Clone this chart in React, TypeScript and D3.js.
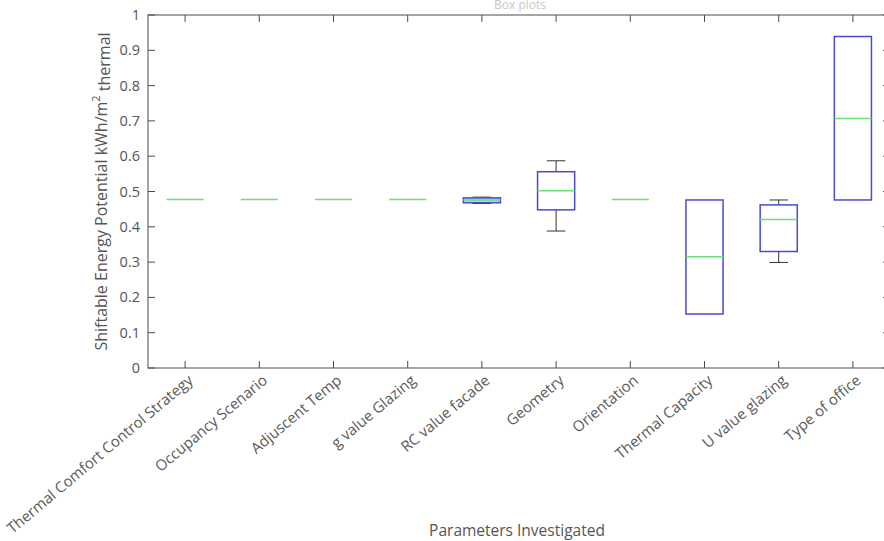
import React, { useEffect, useRef } from "react";
import * as d3 from "d3";

// categories along x
const categories = [
  "Thermal Comfort Control Strategy",
  "Occupancy Scenario",
  "Adjuscent Temp",
  "g value Glazing",
  "RC value facade",
  "Geometry",
  "Orientation",
  "Thermal Capacity",
  "U value glazing",
  "Type of office",
];

// box stats per category
const lowWhisker = [0.477, 0.477, 0.477, 0.477, 0.466, 0.388, 0.477, 0.153, 0.299, 0.476];
const q1 = [0.477, 0.477, 0.477, 0.477, 0.468, 0.448, 0.477, 0.153, 0.33, 0.476];
const medians = [0.477, 0.477, 0.477, 0.477, 0.476, 0.502, 0.477, 0.315, 0.421, 0.707];
const q3 = [0.477, 0.477, 0.477, 0.477, 0.482, 0.556, 0.477, 0.476, 0.462, 0.939];
const highWhisker = [0.477, 0.477, 0.477, 0.477, 0.484, 0.587, 0.477, 0.476, 0.476, 0.939];

const yTicks = [0, 0.1, 0.2, 0.3, 0.4, 0.5, 0.6, 0.7, 0.8, 0.9, 1];

const App = () => {
  const ref = useRef<SVGSVGElement>(null);

  useEffect(() => {
    const svg = d3.select(ref.current);
    svg.selectAll("*").remove();

    const left = 148,
      right = 890,
      top = 15,
      bottom = 368;
    const font = "'Open Sans', sans-serif";
    const axisColor = "#4d4d4d";

    const x = d3.scaleLinear().domain([0.5, 10.5]).range([left, right]);
    const y = d3.scaleLinear().domain([0, 1]).range([bottom, top]);

    // faint title, mostly cut off at the top
    svg
      .append("text")
      .attr("x", 520)
      .attr("y", 9)
      .attr("text-anchor", "middle")
      .attr("font-family", font)
      .attr("font-size", 12)
      .attr("fill", "#c8c8c8")
      .text("Box plots");

    // axes box
    const g = svg.append("g");
    g.append("rect")
      .attr("x", left)
      .attr("y", top)
      .attr("width", right - left)
      .attr("height", bottom - top)
      .attr("fill", "none")
      .attr("stroke", axisColor)
      .attr("stroke-width", 1);

    // y ticks on left and right, inward
    yTicks.forEach((t) => {
      g.append("line")
        .attr("x1", left)
        .attr("x2", left + 7)
        .attr("y1", y(t))
        .attr("y2", y(t))
        .attr("stroke", axisColor);
      g.append("line")
        .attr("x1", right)
        .attr("x2", right - 7)
        .attr("y1", y(t))
        .attr("y2", y(t))
        .attr("stroke", axisColor);
      g.append("text")
        .attr("x", left - 8)
        .attr("y", y(t))
        .attr("dy", "0.35em")
        .attr("text-anchor", "end")
        .attr("font-family", font)
        .attr("font-size", 14.5)
        .attr("fill", "#555")
        .text(d3.format("~g")(t));
    });

    // x ticks top and bottom
    categories.forEach((c, i) => {
      const cx = x(i + 1);
      g.append("line")
        .attr("x1", cx)
        .attr("x2", cx)
        .attr("y1", bottom)
        .attr("y2", bottom - 7)
        .attr("stroke", axisColor);
      g.append("line")
        .attr("x1", cx)
        .attr("x2", cx)
        .attr("y1", top)
        .attr("y2", top + 7)
        .attr("stroke", axisColor);
      g.append("text")
        .attr("transform", `translate(${cx + 9},${bottom + 14}) rotate(-40)`)
        .attr("text-anchor", "end")
        .attr("font-family", font)
        .attr("font-size", 15)
        .attr("fill", "#5a5a5a")
        .text(c);
    });

    // boxes
    const step = x(2) - x(1);
    const boxW = step * 0.5;
    const capW = step * 0.25;
    categories.forEach((c, i) => {
      const cx = x(i + 1);
      const flat = q3[i] - q1[i] < 0.001;
      if (!flat) {
        // whiskers
        if (highWhisker[i] > q3[i]) {
          g.append("line")
            .attr("x1", cx).attr("x2", cx)
            .attr("y1", y(q3[i])).attr("y2", y(highWhisker[i]))
            .attr("stroke", "#333");
          g.append("line")
            .attr("x1", cx - capW / 2).attr("x2", cx + capW / 2)
            .attr("y1", y(highWhisker[i])).attr("y2", y(highWhisker[i]))
            .attr("stroke", "#333");
        }
        if (lowWhisker[i] < q1[i]) {
          g.append("line")
            .attr("x1", cx).attr("x2", cx)
            .attr("y1", y(q1[i])).attr("y2", y(lowWhisker[i]))
            .attr("stroke", "#333");
          g.append("line")
            .attr("x1", cx - capW / 2).attr("x2", cx + capW / 2)
            .attr("y1", y(lowWhisker[i])).attr("y2", y(lowWhisker[i]))
            .attr("stroke", "#333");
        }
        const thin = y(q1[i]) - y(q3[i]) < 8;
        g.append("rect")
          .attr("x", cx - boxW / 2)
          .attr("y", y(q3[i]))
          .attr("width", boxW)
          .attr("height", y(q1[i]) - y(q3[i]))
          .attr("fill", thin ? "#9fd6e6" : "none")
          .attr("stroke", "#4a4ad0")
          .attr("stroke-width", 1.5);
      }
      g.append("line")
        .attr("x1", cx - boxW / 2)
        .attr("x2", cx + boxW / 2)
        .attr("y1", y(medians[i]))
        .attr("y2", y(medians[i]))
        .attr("stroke", "#6ee07a")
        .attr("stroke-width", 1.5);
    });

    // axis titles
    svg
      .append("text")
      .attr("transform", `translate(107,${(top + bottom) / 2}) rotate(-90)`)
      .attr("text-anchor", "middle")
      .attr("font-family", font)
      .attr("font-size", 16)
      .attr("fill", "#555")
      .text("Shiftable Energy Potential kWh/m")
      .append("tspan")
      .attr("dy", "-0.6em")
      .attr("font-size", 11)
      .text("2")
      .append("tspan")
      .attr("dy", "0.6em")
      .attr("font-size", 16)
      .text(" thermal");

    svg
      .append("text")
      .attr("x", 517)
      .attr("y", 536)
      .attr("text-anchor", "middle")
      .attr("font-family", font)
      .attr("font-size", 15.5)
      .attr("fill", "#555")
      .text("Parameters Investigated");
  }, []);

  return (
    <svg
      ref={ref}
      width={884}
      height={541}
      style={{ position: "absolute", left: 0, top: 0, background: "#fff" }}
    />
  );
};

export default App;
